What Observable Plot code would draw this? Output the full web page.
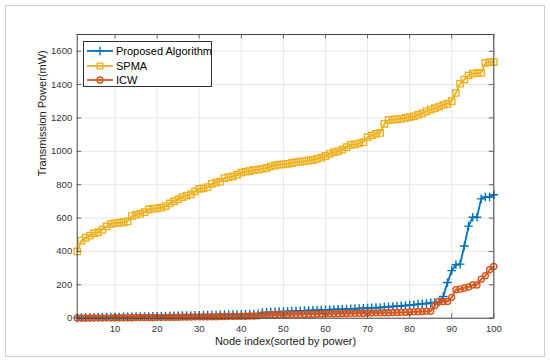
<!DOCTYPE html>
<html><head><meta charset="utf-8">
<script src="https://cdn.jsdelivr.net/npm/d3@7"></script>
<script src="https://cdn.jsdelivr.net/npm/@observablehq/plot@0.6"></script>
<style>
body{margin:0;background:#fff;font-family:Arial,"Liberation Sans",sans-serif;}
#wrap{position:relative;width:550px;height:362px;}
#border{position:absolute;left:5px;top:5px;width:540px;height:352px;border:1.5px solid #d0d0d0;box-sizing:border-box;pointer-events:none;}
#chart{position:absolute;left:0;top:0;}
#legend{position:absolute;left:83px;top:41px;width:129px;height:46px;border:1px solid #333;background:#fff;box-sizing:border-box;font-size:11px;color:#000;}
.row{position:absolute;left:0;height:14px;display:flex;align-items:center;white-space:nowrap;}
.row svg{display:block;margin-left:2px;margin-right:3px;}
</style></head>
<body>
<div id="wrap"><div id="chart"></div><div id="legend"></div><div id="border"></div></div>
<script>
const seriesNames = ["Proposed Algorithm", "SPMA", "ICW"];
const seriesColors = ["#0072BD", "#EDB120", "#D95319"];
const seriesSymbols = ["plus", "square", "circle"];
const nodeIndex = d3.range(1, 101);
const proposed = [
  2,3,3,4,4,5,5,6,6,7,7,8,8,8,9,9,10,10,11,11,
  12,13,13,14,14,15,16,16,17,17,18,18,19,19,20,21,21,22,22,23,23,24,25,26,
  33,35,36,38,39,40,41,42,43,44,45,46,47,48,49,50,
  51,52,53,54,55,56,57,58,59,61,
  62,63,64,66,68,70,72,74,76,78,
  80,84,86,88,92,95,98,
  130,214,285,320,324,433,552,605,605,715,726,726,740];
const spma = [
  400,465,482,495,508,515,530,550,565,570,572,575,580,612,620,625,635,652,656,658,
  662,672,688,700,712,725,735,742,760,775,778,785,805,812,818,840,845,850,860,872,
  878,882,888,890,895,900,910,915,920,922,925,930,935,938,940,945,948,955,962,972,
  985,995,1000,1010,1025,1038,1042,1048,1055,1085,1095,1105,1110,1165,1188,1190,1192,1195,1200,1205,
  1210,1218,1228,1240,1250,1258,1268,1278,1285,1300,1350,1405,1430,1455,1465,1468,1470,1530,1535,1535];
const icw = [
  1,1,1,1,2,2,2,2,2,3,3,3,3,3,4,4,4,4,4,5,
  5,5,6,6,6,7,7,7,8,8,8,9,9,9,10,10,11,11,11,12,12,13,13,14,
  20,20,21,21,22,22,22,23,23,23,24,24,24,25,25,26,
  26,27,27,28,28,29,29,30,30,31,
  31,32,32,33,33,34,34,35,36,37,
  38,39,40,41,42,
  76,100,100,100,125,171,174,181,187,199,199,234,254,290,310];
const xTicks = [10,20,30,40,50,60,70,80,90,100];
const yTicks = [0,200,400,600,800,1000,1200,1400,1600];
const xLabel = "Node index(sorted by power)";
const yLabel = "Transmission Power(mW)";

const allSeries = [proposed, spma, icw];
const data = [];
allSeries.forEach((vals, s) => vals.forEach((v, i) => data.push({series: seriesNames[s], x: nodeIndex[i], y: v})));

const W = 550, H = 362;
const mL = 76.7, mT = 34, mR = 56.7, mB = 44.3;
const pw = W - mL - mR, ph = H - mT - mB;
const tickLen = 4.5;
const axisCol = "#444";
const gridCol = "#e2e2e2";
const markerR = [2.9, 3.6, 3];

const marks = [
  Plot.gridX(xTicks, {stroke: gridCol, strokeOpacity: 1, strokeWidth: 0.8}),
  Plot.gridY(yTicks, {stroke: gridCol, strokeOpacity: 1, strokeWidth: 0.8}),
];
seriesNames.forEach((name, s) => {
  const d = data.filter(r => r.series === name);
  marks.push(Plot.line(d, {x: "x", y: "y", stroke: seriesColors[s], strokeWidth: 1.8}));
  marks.push(Plot.dot(d, {x: "x", y: "y", symbol: () => seriesSymbols[s], stroke: seriesColors[s], fill: "none", strokeWidth: 1.4, r: markerR[s]}));
});
marks.push(
  Plot.ruleX(xTicks, {stroke: axisCol, strokeWidth: 0.8, insetTop: ph - tickLen}),
  Plot.ruleX(xTicks, {stroke: axisCol, strokeWidth: 0.8, insetBottom: ph - tickLen}),
  Plot.ruleY(yTicks, {stroke: axisCol, strokeWidth: 0.8, insetRight: pw - tickLen}),
  Plot.ruleY(yTicks, {stroke: axisCol, strokeWidth: 0.8, insetLeft: pw - tickLen}),
  Plot.frame({stroke: axisCol, strokeWidth: 1}),
  Plot.axisX(xTicks, {tickSize: 0, tickPadding: 7, fontSize: 9.5, fill: "#333", label: null, tickFormat: d3.format("d")}),
  Plot.axisY(yTicks, {tickSize: 0, tickPadding: 5, fontSize: 9.5, fill: "#333", label: null, tickFormat: d3.format("d")}),
  Plot.text([xLabel], {text: d => d, frameAnchor: "bottom", lineAnchor: "middle", dy: 23.5, fontSize: 11, fill: "#222"}),
  Plot.text([yLabel], {text: d => d, frameAnchor: "left", lineAnchor: "middle", rotate: -90, dx: -34.5, fontSize: 11, fill: "#222"})
);

const chart = Plot.plot({
  width: W, height: H,
  marginLeft: mL, marginTop: mT, marginRight: mR, marginBottom: mB,
  style: {fontFamily: "Arial, 'Liberation Sans', sans-serif", background: "transparent"},
  x: {domain: [1, 100]},
  y: {domain: [0, 1700]},
  marks
});
document.getElementById("chart").appendChild(chart);

// legend
const legend = d3.select("#legend");
const rowTops = [2, 17, 31];
seriesNames.forEach((name, s) => {
  const row = legend.append("div").attr("class", "row").style("top", (rowTops[s]) + "px");
  const svg = row.append("svg").attr("width", 27).attr("height", 14);
  svg.append("line").attr("x1", 1).attr("x2", 27).attr("y1", 7).attr("y2", 7)
    .attr("stroke", seriesColors[s]).attr("stroke-width", 1.8);
  const symType = s === 0 ? d3.symbolPlus : (s === 1 ? d3.symbolSquare2 : d3.symbolCircle);
  const rr = markerR[s];
  svg.append("path").attr("d", d3.symbol(symType, Math.PI * rr * rr)())
    .attr("transform", "translate(14,7)").attr("fill", "none")
    .attr("stroke", seriesColors[s]).attr("stroke-width", 1.4);
  row.append("span").text(name);
});
</script>
</body></html>
